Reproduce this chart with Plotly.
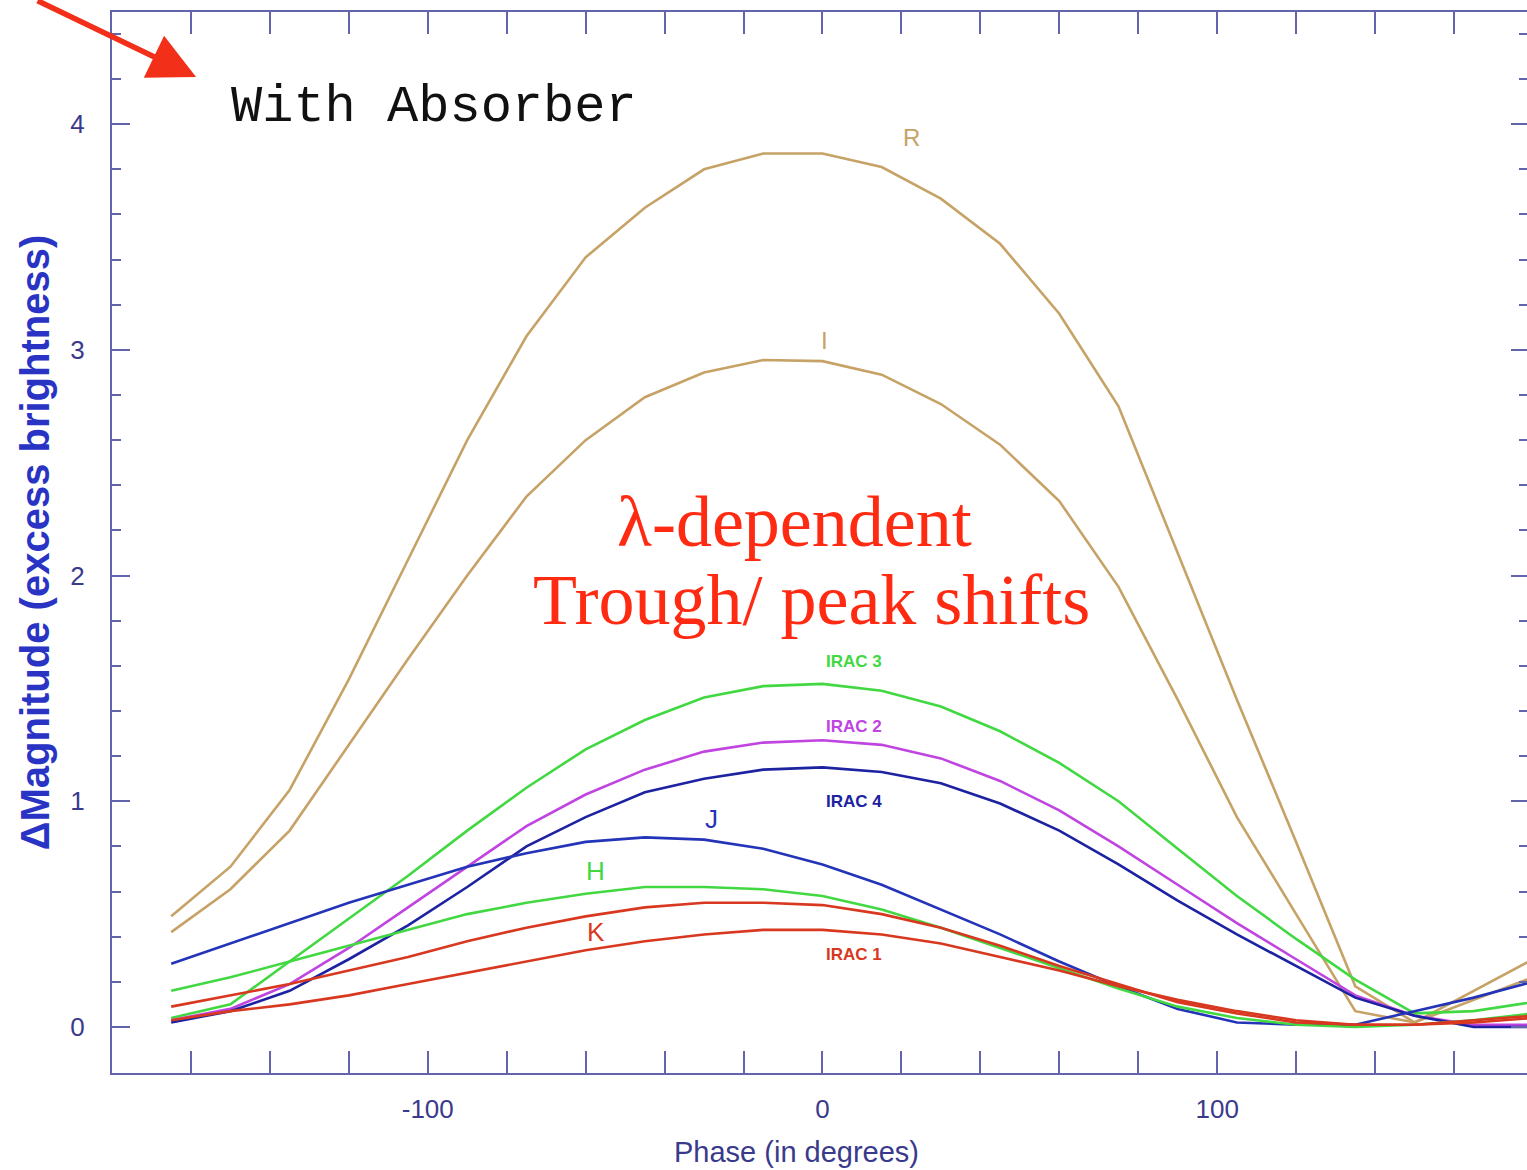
import plotly.graph_objects as go

# Orbital phase grid (degrees)
phase = [-165, -150, -135, -120, -105, -90, -75, -60, -45, -30, -15, 0,
         15, 30, 45, 60, 75, 90, 105, 120, 135, 150, 165, 180]

# Excess brightness (delta magnitude) per band
mag_R = [0.49, 0.71, 1.05, 1.54, 2.07, 2.60, 3.06, 3.41, 3.63, 3.80, 3.87, 3.87,
         3.81, 3.67, 3.47, 3.16, 2.75, 2.10, 1.45, 0.82, 0.18, 0.02, 0.16, 0.30]
mag_I = [0.42, 0.61, 0.87, 1.25, 1.63, 2.00, 2.35, 2.60, 2.79, 2.90, 2.955, 2.95,
         2.89, 2.76, 2.58, 2.33, 1.95, 1.45, 0.93, 0.50, 0.07, 0.02, 0.12, 0.22]
mag_irac3 = [0.04, 0.10, 0.29, 0.48, 0.67, 0.87, 1.06, 1.23, 1.36, 1.46, 1.51, 1.52,
             1.49, 1.42, 1.31, 1.17, 1.00, 0.79, 0.58, 0.39, 0.21, 0.06, 0.07, 0.11]
mag_irac2 = [0.03, 0.08, 0.19, 0.35, 0.53, 0.71, 0.89, 1.03, 1.14, 1.22, 1.26, 1.27,
             1.25, 1.19, 1.09, 0.96, 0.80, 0.63, 0.46, 0.30, 0.14, 0.05, 0.01, 0.01]
mag_irac4 = [0.02, 0.07, 0.16, 0.30, 0.45, 0.62, 0.80, 0.93, 1.04, 1.10, 1.14, 1.15,
             1.13, 1.08, 0.99, 0.87, 0.72, 0.56, 0.41, 0.27, 0.13, 0.05, 0.00, 0.00]
mag_J = [0.28, 0.37, 0.46, 0.55, 0.63, 0.71, 0.77, 0.82, 0.84, 0.83, 0.79, 0.72,
         0.63, 0.52, 0.41, 0.29, 0.18, 0.08, 0.02, 0.01, 0.01, 0.07, 0.13, 0.20]
mag_H = [0.16, 0.22, 0.29, 0.36, 0.43, 0.50, 0.55, 0.59, 0.62, 0.62, 0.61, 0.58,
         0.52, 0.44, 0.35, 0.26, 0.17, 0.09, 0.04, 0.01, 0.00, 0.01, 0.03, 0.06]
mag_K = [0.09, 0.14, 0.19, 0.25, 0.31, 0.38, 0.44, 0.49, 0.53, 0.55, 0.55, 0.54,
         0.50, 0.44, 0.36, 0.27, 0.19, 0.11, 0.06, 0.02, 0.01, 0.01, 0.03, 0.05]
mag_irac1 = [0.03, 0.07, 0.10, 0.14, 0.19, 0.24, 0.29, 0.34, 0.38, 0.41, 0.43, 0.43,
             0.41, 0.37, 0.31, 0.25, 0.18, 0.12, 0.07, 0.03, 0.01, 0.01, 0.02, 0.04]

# Axis tick labels
x_tickvals = [-100, 0, 100]
x_ticktext = ["-100", "0", "100"]
y_tickvals = [0, 1, 2, 3, 4]
y_ticktext = ["0", "1", "2", "3", "4"]

TAN = "#c6a266"
GREEN = "#42d842"
MAGENTA = "#c044e0"
NAVY = "#1c22a0"
BLUE = "#2434b8"
RED = "#d8381f"
AXIS = "#6464ac"
TICKTXT = "#3a3a8c"

bands = [
    ("R", mag_R, TAN),
    ("I", mag_I, TAN),
    ("IRAC 3", mag_irac3, GREEN),
    ("IRAC 2", mag_irac2, MAGENTA),
    ("IRAC 4", mag_irac4, NAVY),
    ("J", mag_J, BLUE),
    ("H", mag_H, GREEN),
    ("K", mag_K, RED),
    ("IRAC 1", mag_irac1, RED),
]

fig = go.Figure()
for name, vals, col in bands:
    fig.add_trace(go.Scatter(x=phase, y=vals, mode="lines", name=name,
                             line=dict(color=col, width=2.6), showlegend=False))

# empty trace so the right-hand tick axis is drawn
fig.add_trace(go.Scatter(x=[None], y=[None], yaxis="y2", showlegend=False))

sans = "Liberation Sans, Arial, sans-serif"

# curve labels: (text, x, y, colour, size, bold)
curve_labels = [
    ("R", 22.6, 3.94, TAN, 24, False),
    ("I", 0.5, 3.04, TAN, 24, False),
    ("IRAC 3", 7.9, 1.62, GREEN, 17, True),
    ("IRAC 2", 7.9, 1.33, MAGENTA, 17, True),
    ("IRAC 4", 7.9, 1.00, NAVY, 17, True),
    ("IRAC 1", 7.9, 0.32, RED, 17, True),
    ("J", -28.1, 0.92, BLUE, 26, False),
    ("H", -57.5, 0.69, GREEN, 26, False),
    ("K", -57.5, 0.42, RED, 26, False),
]
for txt, x, y, col, size, bold in curve_labels:
    fig.add_annotation(x=x, y=y, text=f"<b>{txt}</b>" if bold else txt,
                       showarrow=False, xanchor="center", yanchor="middle",
                       font=dict(family=sans, size=size, color=col))

fig.add_annotation(x=-98.4, y=4.076, text="With Absorber", showarrow=False,
                   xanchor="center", yanchor="middle",
                   font=dict(family="Liberation Mono, Courier New, monospace",
                             size=52, color="#111111"))

serif = "Liberation Serif, Times New Roman, serif"
fig.add_annotation(x=-7.1, y=2.238, text="λ-dependent", showarrow=False,
                   xanchor="center", yanchor="middle",
                   font=dict(family=serif, size=72, color="#ff2a12"))
fig.add_annotation(x=-2.8, y=1.892, text="Trough/ peak shifts", showarrow=False,
                   xanchor="center", yanchor="middle",
                   font=dict(family=serif, size=72, color="#ff2a12"))

# red pointer arrow in the upper-left corner
fig.add_annotation(x=-158.7, y=4.209, ax=-160, ay=-85, text="",
                   showarrow=True, arrowhead=2, arrowsize=1.7, arrowwidth=5.5,
                   arrowcolor="#f2301a", standoff=0)

# horizontal axis title
fig.add_annotation(x=-6.6, y=-0.0745, xref="x", yref="paper",
                   text="Phase (in degrees)", showarrow=False,
                   xanchor="center", yanchor="middle",
                   font=dict(family=sans, size=29, color=TICKTXT))

fig.update_layout(
    width=1527, height=1170,
    margin=dict(l=112, r=0, t=12, b=97),
    paper_bgcolor="white", plot_bgcolor="white",
    xaxis=dict(
        range=[-180, 178.5], showgrid=False, zeroline=False,
        showline=True, linecolor=AXIS, linewidth=2, mirror="allticks",
        ticks="inside", ticklen=22, tickwidth=2, tickcolor=AXIS,
        tickvals=x_tickvals, ticktext=x_ticktext,
        minor=dict(ticks="inside", ticklen=11, tickwidth=1.5, tickcolor=AXIS, dtick=20, tick0=0),
        tickfont=dict(family=sans, size=26, color=TICKTXT),
        ticklabelstandoff=12,
    ),
    yaxis=dict(
        range=[-0.204, 4.497], showgrid=False, zeroline=False,
        showline=True, linecolor=AXIS, linewidth=2,
        ticks="inside", ticklen=18, tickwidth=2, tickcolor=AXIS,
        tickvals=y_tickvals, ticktext=y_ticktext,
        minor=dict(ticks="inside", ticklen=9, tickwidth=1.5, tickcolor=AXIS, dtick=0.2, tick0=0),
        tickfont=dict(family=sans, size=26, color=TICKTXT),
        ticklabelstandoff=20,
        title=dict(text="<b>ΔMagnitude (excess brightness)</b>", standoff=8,
                   font=dict(family=sans, size=40, color="#2a34c4")),
    ),
    yaxis2=dict(
        range=[-0.204, 4.497], overlaying="y", side="right", anchor="x",
        showgrid=False, zeroline=False, showline=False, showticklabels=False,
        ticks="inside", ticklen=16, tickwidth=2, tickcolor=AXIS,
        tickvals=y_tickvals,
        minor=dict(ticks="inside", ticklen=8, tickwidth=1.5, tickcolor=AXIS, dtick=0.2, tick0=0),
    ),
)

fig.write_html("out.html")
